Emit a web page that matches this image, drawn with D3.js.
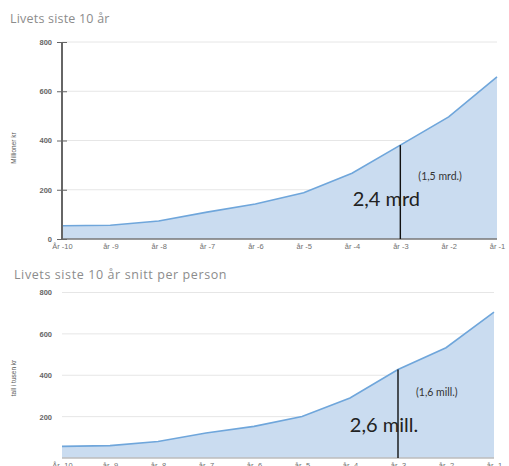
<!DOCTYPE html>
<html>
<head>
<meta charset="utf-8">
<script src="https://cdn.jsdelivr.net/npm/d3@7"></script>
<style>
  html, body { margin: 0; padding: 0; background: #fff; overflow: hidden; }
  svg { display: block; }
</style>
</head>
<body>
<div class="chart"></div>
<script>
(function() {
  // data
  var years = ["År -10", "år -9", "år -8", "år -7", "år -6", "år -5", "år -4", "år -3", "år -2", "år -1"];
  var totalMill = [54, 56, 73, 109, 142, 188, 267, 381, 496, 658];   // millioner kr
  var perPerson = [56, 60, 80, 121, 153, 201, 290, 428, 533, 705];   // tusen kr
  var topTicks = [0, 200, 400, 600, 800];
  var bottomTicks = [200, 400, 600, 800];
  var topNotes = ["2,4 mrd", "(1,5 mrd.)"];
  var bottomNotes = ["2,6 mill.", "(1,6 mill.)"];
  var markYear = "år -3";

  var width = 509, height = 466;

  var svg = d3.select(".chart").append("svg")
    .attr("width", width)
    .attr("height", height);

  function panel(cfg) {
    var g = svg.append("g");

    var x = d3.scalePoint().domain(years).range([cfg.left, cfg.right]);
    var y = d3.scaleLinear().domain([0, 800]).range([cfg.bottom, cfg.top]);

    // title
    g.append("text")
      .attr("x", cfg.titleX).attr("y", cfg.titleY)
      .attr("font-family", "Open Sans, sans-serif")
      .attr("font-size", 12.5)
      .attr("letter-spacing", cfg.titleSpacing)
      .attr("fill", "#8c8c8c")
      .text(cfg.title);

    // grid
    g.selectAll("line.grid")
      .data(cfg.ticks.filter(function(d) { return d > 0; })).enter()
      .append("line")
        .attr("class", "grid")
        .attr("x1", cfg.left).attr("x2", cfg.right)
        .attr("y1", function(d) { return y(d); })
        .attr("y2", function(d) { return y(d); })
        .attr("stroke", "#e6e6e6")
        .attr("stroke-width", 1);

    var pts = years.map(function(k, i) { return {k: k, v: cfg.values[i]}; });

    g.append("path")
      .datum(pts)
      .attr("fill", "#cadcf0")
      .attr("d", d3.area()
        .x(function(d) { return x(d.k); })
        .y0(y(0))
        .y1(function(d) { return y(d.v); }));

    g.append("path")
      .datum(pts)
      .attr("fill", "none")
      .attr("stroke", "#6fa6db")
      .attr("stroke-width", 1.6)
      .attr("d", d3.line()
        .x(function(d) { return x(d.k); })
        .y(function(d) { return y(d.v); }));

    // baseline
    g.append("line")
      .attr("x1", cfg.left).attr("x2", cfg.right)
      .attr("y1", y(0)).attr("y2", y(0))
      .attr("stroke", cfg.axis ? "#777" : "#bdbdbd")
      .attr("stroke-width", 1.5);

    // y axis
    var yAxis = d3.axisLeft(y).tickValues(cfg.ticks)
      .tickSize(cfg.axis ? 5 : 0).tickPadding(cfg.axis ? 5 : 10);
    var ya = g.append("g")
      .attr("transform", "translate(" + cfg.left + ",0)")
      .call(yAxis);
    ya.select(".domain").remove();
    ya.selectAll(".tick line").attr("stroke", "#666").attr("x2", cfg.axis ? 5 : 0).attr("x1", cfg.axis ? -5 : 0);
    ya.selectAll(".tick text")
      .attr("font-family", "Liberation Sans, sans-serif")
      .attr("font-size", 7.5)
      .attr("font-weight", "bold")
      .attr("fill", "#666");
    if (cfg.axis) {
      g.append("line")
        .attr("x1", cfg.left).attr("x2", cfg.left)
        .attr("y1", y(800)).attr("y2", y(0))
        .attr("stroke", "#666")
        .attr("stroke-width", 2);
    }

    // y label
    g.append("text")
      .attr("transform", "translate(" + cfg.ylabelX + "," + cfg.ylabelY + ") rotate(-90)")
      .attr("text-anchor", "middle")
      .attr("font-family", "Liberation Sans Narrow, Liberation Sans, sans-serif")
      .attr("font-size", 6.5)
      .attr("fill", "#555")
      .text(cfg.ylabel);

    // x axis labels
    var xa = g.append("g")
      .attr("transform", "translate(0," + y(0) + ")")
      .call(d3.axisBottom(x).tickSize(0).tickPadding(cfg.xPad));
    xa.select(".domain").remove();
    xa.selectAll(".tick text")
      .attr("font-family", "Liberation Sans, sans-serif")
      .attr("font-size", 7.5)
      .attr("fill", "#707070");

    // annotation
    var mi = years.indexOf(markYear);
    var mx = x(markYear);
    g.append("line")
      .attr("x1", mx).attr("x2", mx)
      .attr("y1", y(cfg.values[mi])).attr("y2", y(0))
      .attr("stroke", "#111")
      .attr("stroke-width", 1.4);
    g.append("text")
      .attr("x", mx - 14).attr("y", y(0) - cfg.bigDy)
      .attr("text-anchor", "middle")
      .attr("font-family", "Lato, sans-serif")
      .attr("font-size", 20)
      .attr("fill", "#222")
      .text(cfg.notes[0]);
    g.append("text")
      .attr("x", mx + 18).attr("y", y(0) - cfg.smallDy)
      .attr("font-family", "Lato, sans-serif")
      .attr("font-size", 10.5)
      .attr("fill", "#333")
      .text(cfg.notes[1]);
  }

  panel({
    title: "Livets siste 10 år", titleX: 10, titleY: 23, titleSpacing: 0.2,
    values: totalMill, ticks: topTicks,
    left: 62, right: 497, top: 42, bottom: 239,
    axis: true, xPad: 5,
    ylabel: "Millioner kr", ylabelX: 16, ylabelY: 148,
    notes: topNotes, bigDy: 33, smallDy: 59
  });

  panel({
    title: "Livets siste 10 år snitt per person", titleX: 14, titleY: 279, titleSpacing: 0.6,
    values: perPerson, ticks: bottomTicks,
    left: 62, right: 494, top: 292.5, bottom: 458,
    axis: false, xPad: 5,
    ylabel: "tall i tusen kr", ylabelX: 16, ylabelY: 378,
    notes: bottomNotes, bigDy: 26, smallDy: 62
  });
})();
</script>
</body>
</html>
